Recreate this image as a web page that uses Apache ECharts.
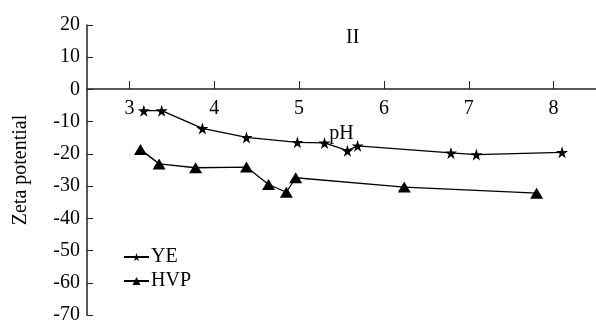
<!DOCTYPE html>
<html>
<head>
    <meta charset="UTF-8">
    <title>Zeta potential vs pH</title>
    <script type="text/javascript" src="https://cdn.jsdelivr.net/npm/echarts@6/dist/echarts.min.js"></script>
    <style type="text/css">
        body { margin: 0; background: #fff; }
        #chart { width: 596px; height: 325px; }
    </style>
</head>
<body>
<div id="chart"></div>
<script type="text/javascript">
    // data
    var phYE = [3.17, 3.38, 3.86, 4.38, 4.98, 5.30, 5.57, 5.69, 6.79, 7.09, 8.10];
    var zetaYE = [-6.6, -6.6, -12.1, -14.9, -16.4, -16.6, -19.0, -17.5, -19.7, -20.2, -19.5];
    var phHVP = [3.13, 3.35, 3.78, 4.38, 4.64, 4.85, 4.96, 6.24, 7.80];
    var zetaHVP = [-18.6, -23.1, -24.3, -24.1, -29.5, -31.9, -27.4, -30.3, -32.2];
    var xTicks = [3, 4, 5, 6, 7, 8];

    function pairs(xs, ys) {
        return xs.map(function (x, i) { return [x, ys[i]]; });
    }

    var font = '"Liberation Serif", "Times New Roman", serif';
    var chart = echarts.init(document.getElementById('chart'));
    chart.setOption({
        animation: false,
        title: {
            text: 'II', left: 341, top: 23,
            textStyle: {fontFamily: font, fontSize: 20, fontWeight: 'normal', color: '#000'}
        },
        legend: {
            orient: 'vertical', left: 118, top: 242, itemGap: 4,
            itemWidth: 25, itemHeight: 10,
            textStyle: {fontFamily: font, fontSize: 20, color: '#000', padding: [0, 0, 0, -3]},
            data: ['YE', 'HVP']
        },
        grid: {left: 87, right: 0, top: 25, bottom: 10, outerBoundsMode: 'none'},
        xAxis: {
            type: 'value', min: 2.5, max: 8.5, position: 'bottom', offset: -226,
            name: 'pH', nameLocation: 'middle', nameGap: 25,
            nameTextStyle: {fontFamily: font, fontSize: 20, color: '#000'},
            axisLine: {onZero: false, lineStyle: {color: '#222', width: 1.5}},
            axisTick: {inside: true, length: 8, customValues: xTicks, lineStyle: {color: '#222'}},
            axisLabel: {customValues: xTicks, margin: 10, fontFamily: font, fontSize: 20, color: '#000'},
            splitLine: {show: false}
        },
        yAxis: {
            type: 'value', min: -70, max: 20, interval: 10,
            name: 'Zeta potential', nameLocation: 'middle', nameGap: 56,
            nameTextStyle: {fontFamily: font, fontSize: 20, color: '#000'},
            axisLine: {show: true, lineStyle: {color: '#222', width: 1.5}},
            axisTick: {show: true, inside: true, length: 6, lineStyle: {color: '#222'}},
            axisLabel: {margin: 7, fontFamily: font, fontSize: 20, color: '#000'},
            splitLine: {show: false}
        },
        series: [
            {
                name: 'YE', type: 'line', data: pairs(phYE, zetaYE),
                symbol: 'path://M50,0 L61,35 L98,35 L68,57 L79,91 L50,70 L21,91 L32,57 L2,35 L39,35 Z',
                symbolSize: 12, itemStyle: {color: '#000'},
                lineStyle: {color: '#000', width: 1.3}
            },
            {
                name: 'HVP', type: 'line', data: pairs(phHVP, zetaHVP),
                symbol: 'triangle', symbolSize: [13, 11], itemStyle: {color: '#000'},
                lineStyle: {color: '#000', width: 1.3}
            }
        ]
    });
</script>
</body>
</html>
